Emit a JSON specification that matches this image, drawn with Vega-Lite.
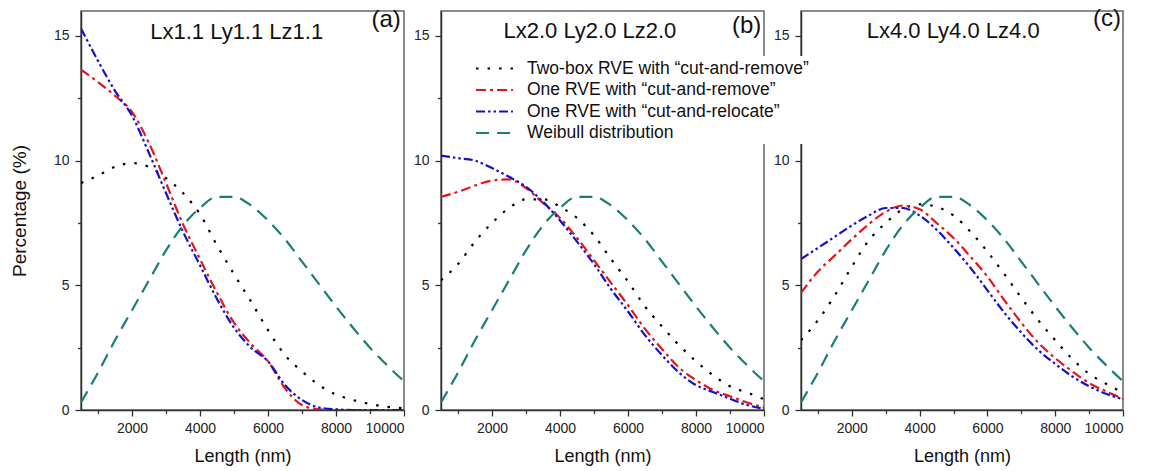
{
  "$schema": "https://vega.github.io/schema/vega-lite/v6.json",
  "padding": {"left": 9, "top": 6, "right": 5, "bottom": 5},
  "background": "white",
  "spacing": 37,
  "bounds": "flush",
  "config": {
    "font": "Liberation Sans",
    "view": {"stroke": "#666666", "strokeWidth": 1.5},
    "axis": {
      "grid": false,
      "domainColor": "#333333",
      "domainWidth": 1.5,
      "ticks": true,
      "tickColor": "#333333",
      "tickWidth": 1.3,
      "labelColor": "#222222",
      "labelFont": "Liberation Sans",
      "labelFontSize": 14,
      "titleFont": "Liberation Sans",
      "titleFontWeight": "normal",
      "titleColor": "#111111"
    },
    "legend": {
      "orient": "none",
      "legendX": 401,
      "legendY": 45,
      "padding": 2,
      "fillColor": "white",
      "symbolType": "M-2.05,0H2.05",
      "symbolSize": 324,
      "symbolStrokeWidth": 2.2,
      "labelFont": "Liberation Sans",
      "labelFontSize": 17.5,
      "labelColor": "#111111",
      "labelOffset": 22,
      "rowPadding": 2.5,
      "labelLimit": 400
    }
  },
  "datasets": {
    "d": [
      {"p":"a","s":"T","x":500,"y":9.1},{"p":"a","s":"T","x":1000,"y":9.4},{"p":"a","s":"T","x":1500,"y":9.75},{"p":"a","s":"T","x":2000,"y":9.9},{"p":"a","s":"T","x":2500,"y":9.75},{"p":"a","s":"T","x":3000,"y":9.3},{"p":"a","s":"T","x":3500,"y":8.7},{"p":"a","s":"T","x":4000,"y":7.85},{"p":"a","s":"T","x":4500,"y":6.6},{"p":"a","s":"T","x":5000,"y":5.45},{"p":"a","s":"T","x":5500,"y":4.35},{"p":"a","s":"T","x":6000,"y":3.2},{"p":"a","s":"T","x":6500,"y":2.2},{"p":"a","s":"T","x":7000,"y":1.55},{"p":"a","s":"T","x":7500,"y":1.0},{"p":"a","s":"T","x":8000,"y":0.62},{"p":"a","s":"T","x":8500,"y":0.4},{"p":"a","s":"T","x":9000,"y":0.24},{"p":"a","s":"T","x":9500,"y":0.13},{"p":"a","s":"T","x":10000,"y":0.07},
      {"p":"a","s":"R","x":500,"y":13.65},{"p":"a","s":"R","x":1000,"y":13.15},{"p":"a","s":"R","x":1500,"y":12.6},{"p":"a","s":"R","x":2000,"y":11.95},{"p":"a","s":"R","x":2500,"y":10.7},{"p":"a","s":"R","x":3000,"y":9.1},{"p":"a","s":"R","x":3500,"y":7.45},{"p":"a","s":"R","x":4000,"y":6.05},{"p":"a","s":"R","x":4500,"y":4.7},{"p":"a","s":"R","x":5000,"y":3.5},{"p":"a","s":"R","x":5500,"y":2.65},{"p":"a","s":"R","x":6000,"y":1.95},{"p":"a","s":"R","x":6500,"y":0.87},{"p":"a","s":"R","x":7000,"y":0.2},{"p":"a","s":"R","x":7500,"y":0.03},{"p":"a","s":"R","x":8000,"y":0},{"p":"a","s":"R","x":8500,"y":0},{"p":"a","s":"R","x":9000,"y":0},{"p":"a","s":"R","x":9500,"y":0},{"p":"a","s":"R","x":10000,"y":0},
      {"p":"a","s":"B","x":500,"y":15.3},{"p":"a","s":"B","x":1000,"y":14.0},{"p":"a","s":"B","x":1500,"y":12.8},{"p":"a","s":"B","x":2000,"y":11.8},{"p":"a","s":"B","x":2500,"y":10.3},{"p":"a","s":"B","x":3000,"y":8.7},{"p":"a","s":"B","x":3500,"y":7.15},{"p":"a","s":"B","x":4000,"y":5.8},{"p":"a","s":"B","x":4500,"y":4.45},{"p":"a","s":"B","x":5000,"y":3.3},{"p":"a","s":"B","x":5500,"y":2.5},{"p":"a","s":"B","x":6000,"y":1.95},{"p":"a","s":"B","x":6500,"y":1.0},{"p":"a","s":"B","x":7000,"y":0.4},{"p":"a","s":"B","x":7500,"y":0.1},{"p":"a","s":"B","x":8000,"y":0.03},{"p":"a","s":"B","x":8500,"y":0},{"p":"a","s":"B","x":9000,"y":0},{"p":"a","s":"B","x":9500,"y":0},{"p":"a","s":"B","x":10000,"y":0},
      {"p":"a","s":"W","x":500,"y":0.3},{"p":"a","s":"W","x":1000,"y":1.5},{"p":"a","s":"W","x":1500,"y":2.8},{"p":"a","s":"W","x":2000,"y":4.0},{"p":"a","s":"W","x":2500,"y":5.2},{"p":"a","s":"W","x":3000,"y":6.4},{"p":"a","s":"W","x":3500,"y":7.4},{"p":"a","s":"W","x":4000,"y":8.1},{"p":"a","s":"W","x":4500,"y":8.55},{"p":"a","s":"W","x":5000,"y":8.55},{"p":"a","s":"W","x":5500,"y":8.2},{"p":"a","s":"W","x":6000,"y":7.6},{"p":"a","s":"W","x":6500,"y":6.85},{"p":"a","s":"W","x":7000,"y":5.95},{"p":"a","s":"W","x":7500,"y":5.05},{"p":"a","s":"W","x":8000,"y":4.15},{"p":"a","s":"W","x":8500,"y":3.3},{"p":"a","s":"W","x":9000,"y":2.5},{"p":"a","s":"W","x":9500,"y":1.8},{"p":"a","s":"W","x":10000,"y":1.15},
      {"p":"b","s":"T","x":500,"y":5.2},{"p":"b","s":"T","x":1000,"y":5.85},{"p":"b","s":"T","x":1500,"y":6.75},{"p":"b","s":"T","x":2000,"y":7.5},{"p":"b","s":"T","x":2500,"y":8.1},{"p":"b","s":"T","x":3000,"y":8.45},{"p":"b","s":"T","x":3500,"y":8.45},{"p":"b","s":"T","x":4000,"y":8.15},{"p":"b","s":"T","x":4500,"y":7.7},{"p":"b","s":"T","x":5000,"y":7.0},{"p":"b","s":"T","x":5500,"y":6.05},{"p":"b","s":"T","x":6000,"y":5.15},{"p":"b","s":"T","x":6500,"y":4.15},{"p":"b","s":"T","x":7000,"y":3.35},{"p":"b","s":"T","x":7500,"y":2.6},{"p":"b","s":"T","x":8000,"y":1.95},{"p":"b","s":"T","x":8500,"y":1.4},{"p":"b","s":"T","x":9000,"y":0.95},{"p":"b","s":"T","x":9500,"y":0.7},{"p":"b","s":"T","x":10000,"y":0.43},
      {"p":"b","s":"R","x":500,"y":8.55},{"p":"b","s":"R","x":1000,"y":8.75},{"p":"b","s":"R","x":1500,"y":9.0},{"p":"b","s":"R","x":2000,"y":9.2},{"p":"b","s":"R","x":2500,"y":9.25},{"p":"b","s":"R","x":3000,"y":8.9},{"p":"b","s":"R","x":3500,"y":8.3},{"p":"b","s":"R","x":4000,"y":7.7},{"p":"b","s":"R","x":4500,"y":6.9},{"p":"b","s":"R","x":5000,"y":6.0},{"p":"b","s":"R","x":5500,"y":5.1},{"p":"b","s":"R","x":6000,"y":4.2},{"p":"b","s":"R","x":6500,"y":3.25},{"p":"b","s":"R","x":7000,"y":2.45},{"p":"b","s":"R","x":7500,"y":1.7},{"p":"b","s":"R","x":8000,"y":1.2},{"p":"b","s":"R","x":8500,"y":0.8},{"p":"b","s":"R","x":9000,"y":0.55},{"p":"b","s":"R","x":9500,"y":0.3},{"p":"b","s":"R","x":10000,"y":0.1},
      {"p":"b","s":"B","x":500,"y":10.2},{"p":"b","s":"B","x":1000,"y":10.1},{"p":"b","s":"B","x":1500,"y":10.0},{"p":"b","s":"B","x":2000,"y":9.7},{"p":"b","s":"B","x":2500,"y":9.35},{"p":"b","s":"B","x":3000,"y":8.95},{"p":"b","s":"B","x":3500,"y":8.35},{"p":"b","s":"B","x":4000,"y":7.6},{"p":"b","s":"B","x":4500,"y":6.75},{"p":"b","s":"B","x":5000,"y":5.85},{"p":"b","s":"B","x":5500,"y":4.85},{"p":"b","s":"B","x":6000,"y":3.95},{"p":"b","s":"B","x":6500,"y":3.0},{"p":"b","s":"B","x":7000,"y":2.2},{"p":"b","s":"B","x":7500,"y":1.5},{"p":"b","s":"B","x":8000,"y":1.0},{"p":"b","s":"B","x":8500,"y":0.72},{"p":"b","s":"B","x":9000,"y":0.45},{"p":"b","s":"B","x":9500,"y":0.2},{"p":"b","s":"B","x":10000,"y":0.05},
      {"p":"b","s":"W","x":500,"y":0.3},{"p":"b","s":"W","x":1000,"y":1.5},{"p":"b","s":"W","x":1500,"y":2.8},{"p":"b","s":"W","x":2000,"y":4.0},{"p":"b","s":"W","x":2500,"y":5.2},{"p":"b","s":"W","x":3000,"y":6.4},{"p":"b","s":"W","x":3500,"y":7.4},{"p":"b","s":"W","x":4000,"y":8.1},{"p":"b","s":"W","x":4500,"y":8.55},{"p":"b","s":"W","x":5000,"y":8.55},{"p":"b","s":"W","x":5500,"y":8.2},{"p":"b","s":"W","x":6000,"y":7.6},{"p":"b","s":"W","x":6500,"y":6.85},{"p":"b","s":"W","x":7000,"y":5.95},{"p":"b","s":"W","x":7500,"y":5.05},{"p":"b","s":"W","x":8000,"y":4.15},{"p":"b","s":"W","x":8500,"y":3.3},{"p":"b","s":"W","x":9000,"y":2.5},{"p":"b","s":"W","x":9500,"y":1.8},{"p":"b","s":"W","x":10000,"y":1.15},
      {"p":"c","s":"T","x":500,"y":2.8},{"p":"c","s":"T","x":1000,"y":3.6},{"p":"c","s":"T","x":1500,"y":4.6},{"p":"c","s":"T","x":2000,"y":5.75},{"p":"c","s":"T","x":2500,"y":6.8},{"p":"c","s":"T","x":3000,"y":7.5},{"p":"c","s":"T","x":3500,"y":8.05},{"p":"c","s":"T","x":4000,"y":8.25},{"p":"c","s":"T","x":4500,"y":8.15},{"p":"c","s":"T","x":5000,"y":7.8},{"p":"c","s":"T","x":5500,"y":7.15},{"p":"c","s":"T","x":6000,"y":6.35},{"p":"c","s":"T","x":6500,"y":5.45},{"p":"c","s":"T","x":7000,"y":4.5},{"p":"c","s":"T","x":7500,"y":3.6},{"p":"c","s":"T","x":8000,"y":2.8},{"p":"c","s":"T","x":8500,"y":2.05},{"p":"c","s":"T","x":9000,"y":1.45},{"p":"c","s":"T","x":9500,"y":1.05},{"p":"c","s":"T","x":10000,"y":0.7},
      {"p":"c","s":"R","x":500,"y":4.7},{"p":"c","s":"R","x":1000,"y":5.55},{"p":"c","s":"R","x":1500,"y":6.2},{"p":"c","s":"R","x":2000,"y":6.85},{"p":"c","s":"R","x":2500,"y":7.45},{"p":"c","s":"R","x":3000,"y":7.95},{"p":"c","s":"R","x":3500,"y":8.2},{"p":"c","s":"R","x":4000,"y":8.05},{"p":"c","s":"R","x":4500,"y":7.5},{"p":"c","s":"R","x":5000,"y":6.9},{"p":"c","s":"R","x":5500,"y":6.15},{"p":"c","s":"R","x":6000,"y":5.35},{"p":"c","s":"R","x":6500,"y":4.4},{"p":"c","s":"R","x":7000,"y":3.5},{"p":"c","s":"R","x":7500,"y":2.7},{"p":"c","s":"R","x":8000,"y":2.08},{"p":"c","s":"R","x":8500,"y":1.55},{"p":"c","s":"R","x":9000,"y":1.08},{"p":"c","s":"R","x":9500,"y":0.75},{"p":"c","s":"R","x":10000,"y":0.45},
      {"p":"c","s":"B","x":500,"y":6.05},{"p":"c","s":"B","x":1000,"y":6.5},{"p":"c","s":"B","x":1500,"y":6.95},{"p":"c","s":"B","x":2000,"y":7.4},{"p":"c","s":"B","x":2500,"y":7.8},{"p":"c","s":"B","x":3000,"y":8.1},{"p":"c","s":"B","x":3500,"y":8.1},{"p":"c","s":"B","x":4000,"y":7.8},{"p":"c","s":"B","x":4500,"y":7.23},{"p":"c","s":"B","x":5000,"y":6.5},{"p":"c","s":"B","x":5500,"y":5.7},{"p":"c","s":"B","x":6000,"y":4.8},{"p":"c","s":"B","x":6500,"y":3.9},{"p":"c","s":"B","x":7000,"y":3.1},{"p":"c","s":"B","x":7500,"y":2.4},{"p":"c","s":"B","x":8000,"y":1.85},{"p":"c","s":"B","x":8500,"y":1.35},{"p":"c","s":"B","x":9000,"y":0.95},{"p":"c","s":"B","x":9500,"y":0.65},{"p":"c","s":"B","x":10000,"y":0.43},
      {"p":"c","s":"W","x":500,"y":0.3},{"p":"c","s":"W","x":1000,"y":1.5},{"p":"c","s":"W","x":1500,"y":2.8},{"p":"c","s":"W","x":2000,"y":4.0},{"p":"c","s":"W","x":2500,"y":5.2},{"p":"c","s":"W","x":3000,"y":6.4},{"p":"c","s":"W","x":3500,"y":7.4},{"p":"c","s":"W","x":4000,"y":8.1},{"p":"c","s":"W","x":4500,"y":8.55},{"p":"c","s":"W","x":5000,"y":8.55},{"p":"c","s":"W","x":5500,"y":8.2},{"p":"c","s":"W","x":6000,"y":7.6},{"p":"c","s":"W","x":6500,"y":6.85},{"p":"c","s":"W","x":7000,"y":5.95},{"p":"c","s":"W","x":7500,"y":5.05},{"p":"c","s":"W","x":8000,"y":4.15},{"p":"c","s":"W","x":8500,"y":3.3},{"p":"c","s":"W","x":9000,"y":2.5},{"p":"c","s":"W","x":9500,"y":1.8},{"p":"c","s":"W","x":10000,"y":1.15}
    ]
  },
  "hconcat": [
    {
      "width": 323, "height": 399,
      "resolve": {"axis": {"x": "independent", "y": "independent"}},
      "layer": [
        {
          "data": {"name": "d"},
          "transform": [{"filter": "datum.p === 'a'"}],
          "mark": {"type": "line", "interpolate": "monotone", "strokeWidth": 2.2, "clip": true},
          "encoding": {
            "x": {"field": "x", "type": "quantitative", "scale": {"domain": [500, 10000], "nice": false, "zero": false},
                  "axis": {"values": [2000, 4000, 6000, 8000, 10000], "format": "d", "tickSize": 6, "labelPadding": 5, "labelFlush": true, "title": "Length (nm)", "titleFontSize": 18, "titlePadding": 12}},
            "y": {"field": "y", "type": "quantitative", "scale": {"domain": [0, 16], "nice": false},
                  "axis": {"values": [0, 5, 10, 15], "tickSize": 6, "labelPadding": 6, "title": "Percentage (%)", "titleFontSize": 19, "titlePadding": 24}},
            "color": {"field": "s", "type": "nominal", "scale": {"domain": ["T", "R", "B", "W"], "range": ["#000000", "#e4161c", "#1111cc", "#1b7d78"]},
                      "legend": {"title": null, "labelExpr": "datum.label === 'T' ? 'Two-box RVE with “cut-and-remove”' : datum.label === 'R' ? 'One RVE with “cut-and-remove”' : datum.label === 'B' ? 'One RVE with  “cut-and-relocate”' : 'Weibull distribution'"}},
            "strokeDash": {"field": "s", "type": "nominal", "scale": {"domain": ["T", "R", "B", "W"], "range": [[2.5, 9], [10, 4, 3, 4], [9, 3, 2.5, 3, 2.5, 3], [13, 8]]},
                      "legend": {"title": null, "labelExpr": "datum.label === 'T' ? 'Two-box RVE with “cut-and-remove”' : datum.label === 'R' ? 'One RVE with “cut-and-remove”' : datum.label === 'B' ? 'One RVE with  “cut-and-relocate”' : 'Weibull distribution'"}}
          }
        },
        {
          "data": {"values": [{}]},
          "mark": {"type": "text", "text": "Lx1.1 Ly1.1 Lz1.1", "fontSize": 22, "font": "Liberation Sans", "align": "center", "baseline": "alphabetic", "color": "#111111"},
          "encoding": {
            "x": {"datum": 5080, "type": "quantitative", "axis": {"orient": "bottom", "values": [1000, 3000, 5000, 7000, 9000], "labels": false, "domain": false, "tickSize": 3.5, "title": null}},
            "y": {"datum": 14.86, "type": "quantitative", "axis": {"orient": "left", "values": [2.5, 7.5, 12.5], "labels": false, "domain": false, "tickSize": 3.5, "title": null}}
          }
        },
        {
          "data": {"values": [{}]},
          "mark": {"type": "text", "text": "(a)", "fontSize": 24, "font": "Liberation Sans", "align": "right", "baseline": "alphabetic", "color": "#111111"},
          "encoding": {
            "x": {"datum": 9906, "type": "quantitative", "axis": null},
            "y": {"datum": 15.35, "type": "quantitative", "axis": null}
          }
        }
      ]
    },
    {
      "width": 323, "height": 399,
      "resolve": {"axis": {"x": "independent", "y": "independent"}},
      "layer": [
        {
          "data": {"name": "d"},
          "transform": [{"filter": "datum.p === 'b'"}],
          "mark": {"type": "line", "interpolate": "monotone", "strokeWidth": 2.2, "clip": true},
          "encoding": {
            "x": {"field": "x", "type": "quantitative", "scale": {"domain": [500, 10000], "nice": false, "zero": false},
                  "axis": {"values": [2000, 4000, 6000, 8000, 10000], "format": "d", "tickSize": 6, "labelPadding": 5, "labelFlush": true, "title": "Length (nm)", "titleFontSize": 18, "titlePadding": 12}},
            "y": {"field": "y", "type": "quantitative", "scale": {"domain": [0, 16], "nice": false},
                  "axis": {"values": [0, 5, 10, 15], "tickSize": 6, "labelPadding": 6, "title": null}},
            "color": {"field": "s", "type": "nominal", "scale": {"domain": ["T", "R", "B", "W"], "range": ["#000000", "#e4161c", "#1111cc", "#1b7d78"]},
                      "legend": {"title": null, "labelExpr": "datum.label === 'T' ? 'Two-box RVE with “cut-and-remove”' : datum.label === 'R' ? 'One RVE with “cut-and-remove”' : datum.label === 'B' ? 'One RVE with  “cut-and-relocate”' : 'Weibull distribution'"}},
            "strokeDash": {"field": "s", "type": "nominal", "scale": {"domain": ["T", "R", "B", "W"], "range": [[2.5, 9], [10, 4, 3, 4], [9, 3, 2.5, 3, 2.5, 3], [13, 8]]},
                      "legend": {"title": null, "labelExpr": "datum.label === 'T' ? 'Two-box RVE with “cut-and-remove”' : datum.label === 'R' ? 'One RVE with “cut-and-remove”' : datum.label === 'B' ? 'One RVE with  “cut-and-relocate”' : 'Weibull distribution'"}}
          }
        },
        {
          "data": {"values": [{}]},
          "mark": {"type": "text", "text": "Lx2.0 Ly2.0 Lz2.0", "fontSize": 22, "font": "Liberation Sans", "align": "center", "baseline": "alphabetic", "color": "#111111"},
          "encoding": {
            "x": {"datum": 4880, "type": "quantitative", "axis": {"orient": "bottom", "values": [1000, 3000, 5000, 7000, 9000], "labels": false, "domain": false, "tickSize": 3.5, "title": null}},
            "y": {"datum": 14.9, "type": "quantitative", "axis": {"orient": "left", "values": [2.5, 7.5, 12.5], "labels": false, "domain": false, "tickSize": 3.5, "title": null}}
          }
        },
        {
          "data": {"values": [{}]},
          "mark": {"type": "text", "text": "(b)", "fontSize": 24, "font": "Liberation Sans", "align": "right", "baseline": "alphabetic", "color": "#111111"},
          "encoding": {
            "x": {"datum": 9920, "type": "quantitative", "axis": null},
            "y": {"datum": 15.1, "type": "quantitative", "axis": null}
          }
        }
      ]
    },
    {
      "width": 322, "height": 399,
      "resolve": {"axis": {"x": "independent", "y": "independent"}},
      "layer": [
        {
          "data": {"name": "d"},
          "transform": [{"filter": "datum.p === 'c'"}],
          "mark": {"type": "line", "interpolate": "monotone", "strokeWidth": 2.2, "clip": true},
          "encoding": {
            "x": {"field": "x", "type": "quantitative", "scale": {"domain": [500, 10000], "nice": false, "zero": false},
                  "axis": {"values": [2000, 4000, 6000, 8000, 10000], "format": "d", "tickSize": 6, "labelPadding": 5, "title": "Length (nm)", "titleFontSize": 18, "titlePadding": 12}},
            "y": {"field": "y", "type": "quantitative", "scale": {"domain": [0, 16], "nice": false},
                  "axis": {"values": [0, 5, 10, 15], "tickSize": 6, "labelPadding": 6, "title": null}},
            "color": {"field": "s", "type": "nominal", "scale": {"domain": ["T", "R", "B", "W"], "range": ["#000000", "#e4161c", "#1111cc", "#1b7d78"]},
                      "legend": {"title": null, "labelExpr": "datum.label === 'T' ? 'Two-box RVE with “cut-and-remove”' : datum.label === 'R' ? 'One RVE with “cut-and-remove”' : datum.label === 'B' ? 'One RVE with  “cut-and-relocate”' : 'Weibull distribution'"}},
            "strokeDash": {"field": "s", "type": "nominal", "scale": {"domain": ["T", "R", "B", "W"], "range": [[2.5, 9], [10, 4, 3, 4], [9, 3, 2.5, 3, 2.5, 3], [13, 8]]},
                      "legend": {"title": null, "labelExpr": "datum.label === 'T' ? 'Two-box RVE with “cut-and-remove”' : datum.label === 'R' ? 'One RVE with “cut-and-remove”' : datum.label === 'B' ? 'One RVE with  “cut-and-relocate”' : 'Weibull distribution'"}}
          }
        },
        {
          "data": {"values": [{}]},
          "mark": {"type": "text", "text": "Lx4.0 Ly4.0 Lz4.0", "fontSize": 22, "font": "Liberation Sans", "align": "center", "baseline": "alphabetic", "color": "#111111"},
          "encoding": {
            "x": {"datum": 4990, "type": "quantitative", "axis": {"orient": "bottom", "values": [1000, 3000, 5000, 7000, 9000], "labels": false, "domain": false, "tickSize": 3.5, "title": null}},
            "y": {"datum": 14.9, "type": "quantitative", "axis": {"orient": "left", "values": [2.5, 7.5, 12.5], "labels": false, "domain": false, "tickSize": 3.5, "title": null}}
          }
        },
        {
          "data": {"values": [{}]},
          "mark": {"type": "text", "text": "(c)", "fontSize": 24, "font": "Liberation Sans", "align": "right", "baseline": "alphabetic", "color": "#111111"},
          "encoding": {
            "x": {"datum": 9940, "type": "quantitative", "axis": null},
            "y": {"datum": 15.4, "type": "quantitative", "axis": null}
          }
        }
      ]
    }
  ]
}
